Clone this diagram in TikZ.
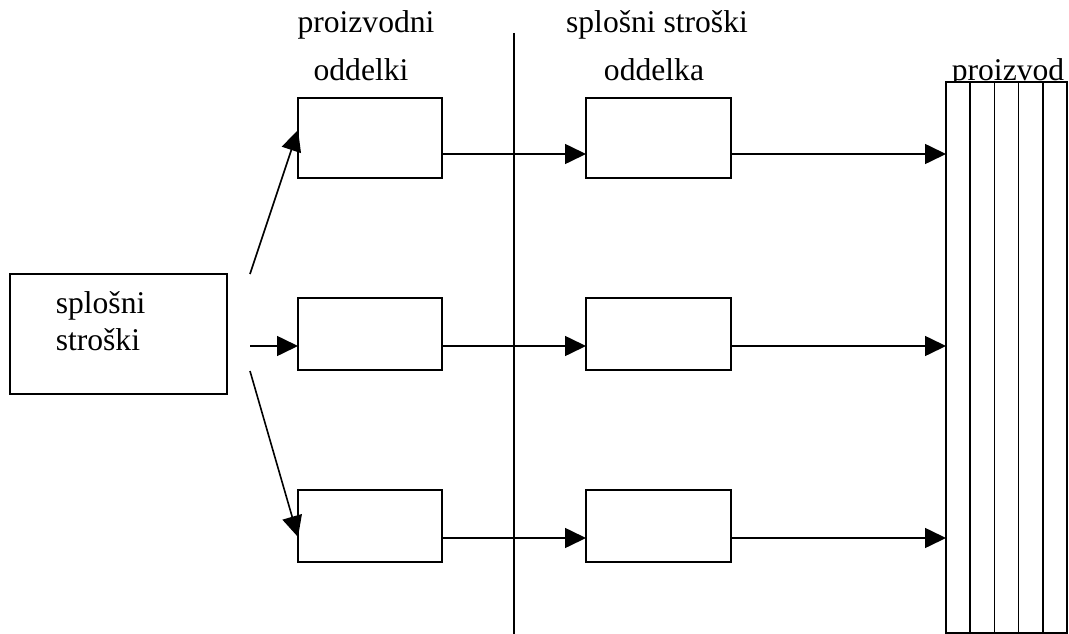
\documentclass[tikz,border=0pt]{standalone}
\usepackage{fontspec}
\setmainfont{Liberation Serif}
\usetikzlibrary{arrows.meta,calc}
\begin{document}
\begin{tikzpicture}[x=1pt,y=-1pt,
  line width=1.6pt,
  txt/.style={font=\fontsize{31.6pt}{37pt}\selectfont, inner sep=0pt, anchor=base},
  box/.style={draw, fill=white, inner sep=0pt, outer sep=0pt, anchor=north west},
  arr/.style={-{Triangle[length=21pt,width=20pt]}, shorten >=0pt}
]
\useasboundingbox (0,0) rectangle (1069,634);

% column headings
\node[txt] (h1a) at (366,33) {proizvodni};
\node[txt] (h1b) at (361,81) {oddelki};
\node[txt] (h2a) at (657,33) {splošni stroški};
\node[txt] (h2b) at (654,81) {oddelka};
\node[txt] (h3)  at (1008,81) {proizvod};

% dividing line
\coordinate (vtop) at (514,33);
\coordinate (vbot) at (514,634);
\draw (vtop) -- (vbot);

% general costs box
\node[box, minimum width=217pt, minimum height=120pt] (gen) at (10,274) {};
\node[txt, anchor=base west] (g1) at (55,313) {splošni};
\node[txt, anchor=base west] (g2) at (55,350) {stroški};

% production departments
\node[box, minimum width=144pt, minimum height=80pt] (p1) at (298,98) {};
\node[box, minimum width=144pt, minimum height=72pt] (p2) at (298,298) {};
\node[box, minimum width=144pt, minimum height=72pt] (p3) at (298,490) {};

% department overheads
\node[box, minimum width=145pt, minimum height=80pt] (d1) at (586,98) {};
\node[box, minimum width=145pt, minimum height=72pt] (d2) at (586,298) {};
\node[box, minimum width=145pt, minimum height=72pt] (d3) at (586,490) {};

% product column with five strips
\node[box, minimum width=121pt, minimum height=551pt] (prod) at (946,82) {};
\foreach \i in {1,...,4}
  \draw ($(prod.north west)+(\i*24.2,0)$) -- ($(prod.south west)+(\i*24.2,0)$);

% row levels
\coordinate (r1) at (0,154);
\coordinate (r2) at (0,346);
\coordinate (r3) at (0,538);

% distribution arrows from general costs
\coordinate (s1) at (250,274);
\coordinate (s2) at (250,346);
\coordinate (s3) at (250,371);
\coordinate (t1) at (298,130);
\coordinate (t3) at (298,537);
\draw[arr] (s1) -- (t1);
\draw[arr] (s2) -- (p2.west |- r2);
\draw[arr] (s3) -- (t3);

% flows to department overheads and product
\draw[arr] (p1.east |- r1) -- (d1.west |- r1);
\draw[arr] (p2.east |- r2) -- (d2.west |- r2);
\draw[arr] (p3.east |- r3) -- (d3.west |- r3);
\draw[arr] (d1.east |- r1) -- (prod.west |- r1);
\draw[arr] (d2.east |- r2) -- (prod.west |- r2);
\draw[arr] (d3.east |- r3) -- (prod.west |- r3);
\end{tikzpicture}
\end{document}
